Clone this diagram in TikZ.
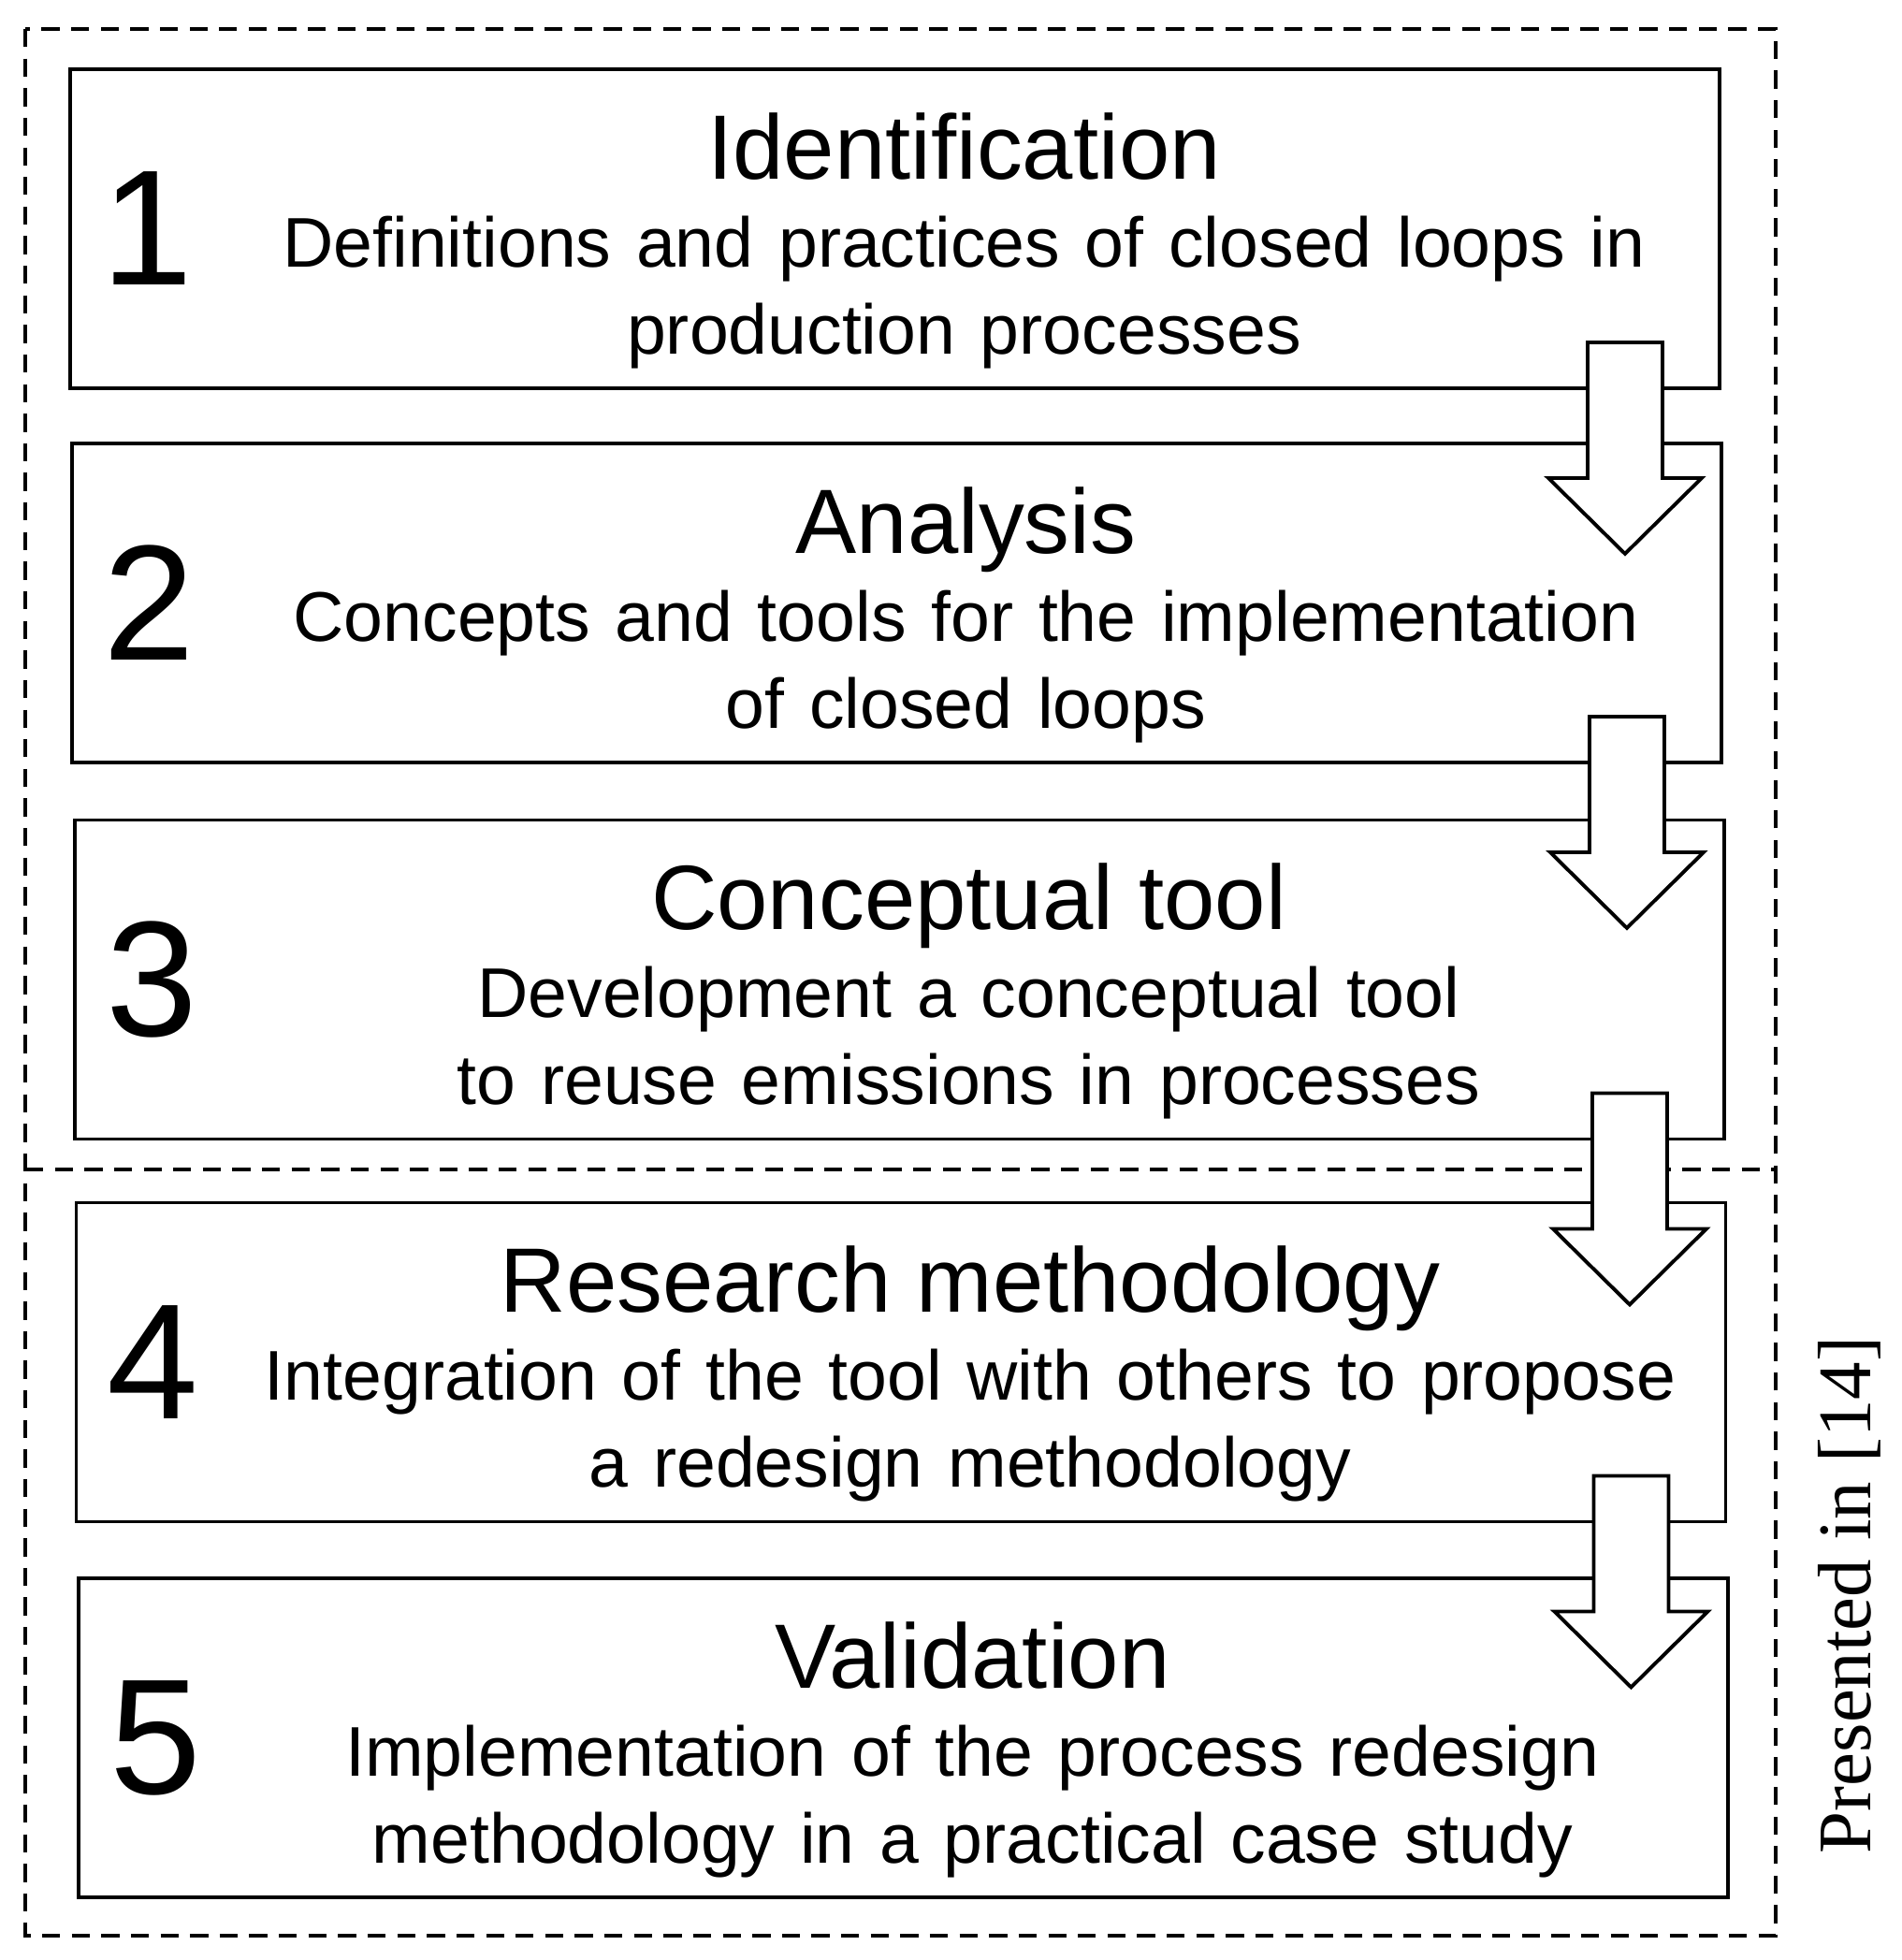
\documentclass[tikz,border=0pt]{standalone}
\usepackage{fontspec}
\setmainfont{Liberation Sans}
\newfontfamily\presfont{Liberation Serif}
\usetikzlibrary{
  	positioning,
  	calc
  }
\newcommand\subfont{\fontsize{21.4}{26.5}\selectfont\spaceskip=0.355em\relax}
\tikzstyle{stage}=[draw,line width=1.1pt,minimum width=17.63cm,minimum height=3.41cm,inner sep=0pt]
\tikzstyle{num}=[inner sep=0pt,font=\fontsize{50}{60}\selectfont]
\tikzstyle{ttl}=[inner sep=0pt,anchor=base,font=\fontsize{27.8}{33}\selectfont]
\tikzstyle{sub}=[inner sep=0pt,anchor=north,align=center,font=\subfont]
\tikzstyle{outerframe}=[line width=1.1pt,dash pattern=on 5.5pt off 3.5pt]
\tikzstyle{blockarrow}=[draw,fill=white,line width=1.1pt,line join=miter]
\begin{document}
\begin{tikzpicture}
\useasboundingbox (0,0) rectangle (20.33,-20.95);
\coordinate (fnw) at (0.27,-0.31);
\coordinate (fse) at (18.98,-20.69);
\coordinate (splitw) at (0.27,-12.50);
\coordinate (splite) at (18.98,-12.50);
\draw[outerframe] (fnw) rectangle (fse);
\draw[outerframe] (splitw) -- (splite);
\node[stage] (b1) at (9.565,-2.445) {};
\node[stage] (b2) at (9.585,-6.445) {};
\node[stage] (b3) at (9.615,-10.47) {};
\node[stage] (b4) at (9.63,-14.56) {};
\node[stage] (b5) at (9.655,-18.575) {};
\node[num] (n1) at ($(b1.west)+(0.84,0)$) {1};
\node[num] (n2) at ($(b2.west)+(0.84,0)$) {2};
\node[num] (n3) at ($(b3.west)+(0.84,0)$) {3};
\node[num] (n4) at ($(b4.west)+(0.84,0)$) {4};
\node[num] (n5) at ($(b5.west)+(0.84,0)$) {5};
\node[ttl] (t1) at ($(b1.north)+(0.74,-1.19)$) {Identification};
\node[sub, below=0.39cm of t1.base] (s1) {Definitions and practices of closed loops in\\production processes};
\node[ttl] (t2) at ($(b2.north)+(0.74,-1.19)$) {Analysis};
\node[sub, below=0.39cm of t2.base] (s2) {Concepts and tools for the implementation\\of closed loops};
\node[ttl] (t3) at ($(b3.north)+(0.74,-1.19)$) {Conceptual tool};
\node[sub, below=0.39cm of t3.base] (s3) {Development a conceptual tool\\to reuse emissions in processes};
\node[ttl] (t4) at ($(b4.north)+(0.74,-1.19)$) {Research methodology};
\node[sub, below=0.39cm of t4.base] (s4) {Integration of the tool with others to propose\\a redesign methodology};
\node[ttl] (t5) at ($(b5.north)+(0.74,-1.19)$) {Validation};
\node[sub, below=0.39cm of t5.base] (s5) {Implementation of the process redesign\\methodology in a practical case study};
\draw[blockarrow] ($(b1.south east)+(-1.43,0.51)$) -- ++(0.80,0) -- ++(0,-1.45) -- ++(0.42,0)
   -- ++(-0.82,-0.81) -- ++(-0.82,0.81) -- ++(0.42,0) -- cycle;
\draw[blockarrow] ($(b2.south east)+(-1.43,0.51)$) -- ++(0.80,0) -- ++(0,-1.45) -- ++(0.42,0)
   -- ++(-0.82,-0.81) -- ++(-0.82,0.81) -- ++(0.42,0) -- cycle;
\draw[blockarrow] ($(b3.south east)+(-1.43,0.51)$) -- ++(0.80,0) -- ++(0,-1.45) -- ++(0.42,0)
   -- ++(-0.82,-0.81) -- ++(-0.82,0.81) -- ++(0.42,0) -- cycle;
\draw[blockarrow] ($(b4.south east)+(-1.43,0.51)$) -- ++(0.80,0) -- ++(0,-1.45) -- ++(0.42,0)
   -- ++(-0.82,-0.81) -- ++(-0.82,0.81) -- ++(0.42,0) -- cycle;
\node[rotate=90,anchor=base,inner sep=0pt,font=\presfont\fontsize{23}{28}\selectfont] (pres) at (19.99,-17.05) {Presented in [14]};
\end{tikzpicture}
\end{document}
